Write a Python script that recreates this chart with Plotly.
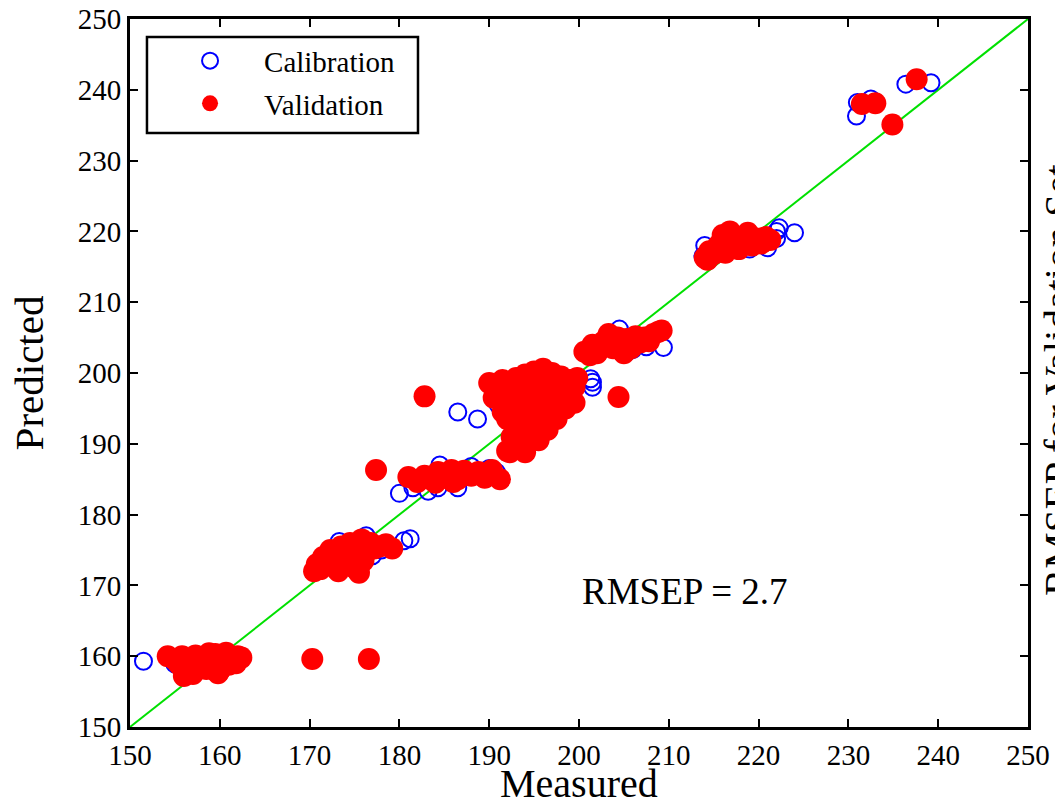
import plotly.graph_objects as go

# ---------------- data ----------------
cal_x = [151.5, 155.0, 156.5, 158.0, 159.2, 160.5, 161.8, 157.5, 162.0,
         172.5, 173.3, 176.3, 177.0, 180.5, 181.2, 174.5, 178.0, 170.8,
         186.5, 188.7,
         180.0, 181.5, 183.2, 184.3, 184.5, 186.5, 188.0, 190.0, 190.8,
         191.0, 201.5, 201.5, 201.3, 193.5, 197.5, 190.5,
         204.5, 205.3, 207.5, 209.4, 206.0, 203.0,
         213.8, 214.0, 221.0, 222.0, 222.3, 224.0, 219.0, 218.0, 222.0,
         230.9, 231.0, 232.5, 236.4, 239.2]
cal_y = [159.3, 158.9, 158.5, 159.0, 158.3, 159.2, 158.9, 159.6, 159.5,
         174.5, 176.2, 177.0, 174.2, 176.3, 176.6, 173.0, 175.0, 172.5,
         194.5, 193.5,
         183.0, 183.8, 183.3, 183.8, 187.0, 183.8, 186.8, 186.5, 186.0,
         195.5, 198.0, 198.7, 199.2, 192.0, 194.0, 196.5,
         206.2, 202.9, 203.7, 203.6, 203.3, 204.0,
         216.5, 218.0, 217.7, 220.0, 220.5, 219.8, 217.5, 217.8, 219.0,
         236.3, 238.2, 238.7, 240.8, 241.0]

val_x = [154.2, 155.0, 155.5, 156.0, 156.5, 156.8, 157.3, 157.5, 158.0, 158.5,
         159.0, 159.5, 160.0, 160.3, 160.7, 161.0, 161.5, 162.0, 162.4, 155.8,
         157.0, 159.8, 158.8, 161.8,
         170.3, 176.6,
         170.5, 170.8, 171.2, 171.5, 172.0, 172.3, 172.8, 173.2, 173.5, 174.0,
         174.5, 175.0, 175.3, 175.8, 176.2, 176.8, 177.2, 177.8, 178.5, 179.2,
         175.5, 173.8, 171.8, 176.0,
         177.4, 182.8, 204.4,
         181.0, 182.0, 182.8, 183.5, 184.3, 185.0, 185.8, 186.5, 187.2, 188.0,
         188.8, 189.5, 190.3, 191.2, 184.0, 186.0,
         190.0, 190.5, 191.0, 191.5, 192.0, 192.5, 193.0, 193.5, 194.0, 194.5,
         195.0, 195.5, 196.0, 196.5, 197.0, 197.5, 198.0, 198.5, 199.0, 199.5,
         192.0, 192.5, 192.0, 193.0, 193.5, 194.0, 194.5, 195.0, 195.5, 196.0,
         196.5, 197.0, 197.5, 198.0, 198.5, 199.0, 193.0, 194.0, 195.0, 196.0,
         197.0, 193.5, 191.5, 195.5, 194.5, 199.8, 199.5, 192.3,
         200.6, 201.2, 201.5, 202.2, 202.8, 203.3, 203.8, 204.3, 204.8, 205.3,
         205.8, 206.3, 206.8, 207.3, 207.8, 208.3, 208.8, 209.2, 205.0, 202.0,
         214.0, 214.5, 215.0, 215.5, 216.0, 216.3, 216.8, 217.3, 217.8, 218.3,
         218.8, 219.3, 219.8, 220.3, 220.8, 221.3, 214.3, 217.0,
         231.5, 233.0, 234.9, 237.6]
val_y = [160.0, 159.5, 158.8, 157.2, 157.8, 159.3, 160.1, 158.5, 159.8, 158.2,
         159.0, 160.3, 158.0, 159.6, 160.5, 158.8, 159.6, 160.0, 159.8, 160.0,
         157.5, 157.6, 160.4, 159.0,
         159.6, 159.6,
         172.0, 173.0, 172.3, 174.0, 172.8, 175.0, 173.5, 172.0, 175.5, 174.0,
         176.0, 172.5, 175.0, 176.5, 174.5, 176.0, 175.2, 175.5, 175.8, 175.2,
         171.8, 172.8, 173.8, 173.5,
         186.3, 196.7, 196.6,
         185.3, 184.6, 185.5, 185.0, 186.0, 185.2, 186.3, 185.0, 186.2, 185.5,
         186.0, 185.2, 186.3, 185.0, 184.5, 184.6,
         198.6, 196.5, 197.5, 199.0, 196.0, 198.0, 199.3, 197.0, 199.8, 198.0,
         200.2, 198.5, 200.6, 199.0, 200.0, 198.5, 199.5, 197.5, 199.0, 198.0,
         193.5, 191.0, 189.0, 190.0, 192.5, 188.8, 191.0, 193.0, 190.5, 194.5,
         192.0, 195.5, 193.5, 196.5, 195.0, 196.0, 195.0, 194.0, 196.0, 197.0,
         197.5, 196.0, 194.5, 195.0, 196.5, 199.3, 195.8, 188.8,
         203.0, 202.5, 204.0, 203.2, 204.5, 205.5, 203.5, 205.0, 203.8, 204.8,
         203.5, 205.2, 204.3, 205.0, 204.5, 205.5, 205.8, 206.0, 202.8, 202.8,
         216.3, 217.2, 216.8, 218.0, 219.5, 217.0, 220.0, 218.5, 217.5, 219.0,
         219.8, 218.0, 219.0, 218.3, 219.2, 218.8, 216.0, 219.2,
         238.0, 238.1, 235.1, 241.5]

line_x = [150, 250]
line_y = [150, 250]

tick_vals = [150, 160, 170, 180, 190, 200, 210, 220, 230, 240, 250]

FONT = "Liberation Serif"

fig = go.Figure()
fig.add_trace(go.Scatter(x=line_x, y=line_y, mode="lines",
                         line=dict(color="#00e000", width=2),
                         showlegend=False, hoverinfo="skip"))
fig.add_trace(go.Scatter(x=cal_x, y=cal_y, mode="markers", name="Calibration",
                         legendgroup="a",
                         marker=dict(symbol="circle-open", size=17,
                                     color="#0000ff", line=dict(width=2, color="#0000ff"))))
fig.add_trace(go.Scatter(x=val_x, y=val_y, mode="markers", name="Validation",
                         legendgroup="b",
                         marker=dict(symbol="circle", size=22, color="#ff0000",
                                     line=dict(width=0))))

axis_common = dict(
    range=[150, 250], tickvals=tick_vals, ticks="inside", ticklen=8, tickwidth=2,
    tickcolor="black", showline=True, linecolor="black", linewidth=3,
    mirror="allticks", showgrid=False, zeroline=False, automargin=True,
    tickfont=dict(family=FONT, size=29, color="black"),
)

fig.update_layout(
    width=1055, height=808,
    margin=dict(l=130, r=27, t=19, b=81, autoexpand=False),
    plot_bgcolor="white", paper_bgcolor="white",
    font=dict(family=FONT, color="black"),
    xaxis=dict(**axis_common),
    yaxis=dict(**axis_common, title=dict(text="Predicted", standoff=22,
                                         font=dict(family=FONT, size=41))),
    legend=dict(x=0.029, y=0.977, xanchor="left", yanchor="top",
                bgcolor="rgba(0,0,0,0)", borderwidth=0,
                font=dict(family=FONT, size=29, color="black"),
                itemwidth=98, tracegroupgap=2),
    shapes=[dict(type="rect", xref="paper", yref="paper",
                 x0=0.0189, x1=0.3207, y0=0.839, y1=0.9746,
                 line=dict(color="black", width=2.5), fillcolor="rgba(0,0,0,0)")],
    annotations=[
        dict(text="Measured", x=0.5, y=-0.0805, xref="paper", yref="paper",
             xanchor="center", yanchor="middle", showarrow=False,
             font=dict(family=FONT, size=40, color="black")),
        dict(text="RMSEP = 2.7", x=211.8, y=169.1, xref="x", yref="y",
             showarrow=False, font=dict(family=FONT, size=37, color="black")),
        dict(text="RMSEP for Validation Set", x=1.0055, y=0.182,
             xref="paper", yref="paper", xanchor="left", yanchor="bottom",
             textangle=-90, showarrow=False,
             font=dict(family=FONT, size=41, color="black")),
    ],
)

fig.write_html("out.html")
